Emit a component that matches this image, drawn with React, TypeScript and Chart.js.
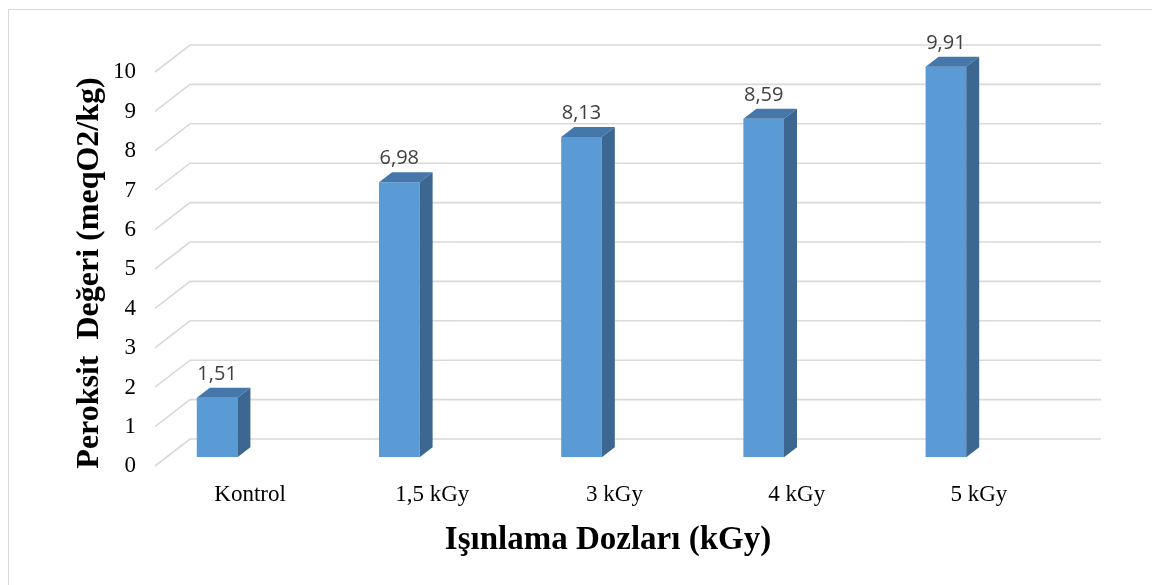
import React, { useEffect, useRef } from "react";
import { Chart, registerables } from "chart.js";

Chart.register(...registerables);

// Peroxide values per irradiation dose
const categories: string[] = ["Kontrol", "1,5 kGy", "3 kGy", "4 kGy", "5 kGy"];
const peroxideValues: number[] = [1.51, 6.98, 8.13, 8.59, 9.91];
const yTicksMin = 0;
const yTicksMax = 10;
const yTicksStep = 1;

const yTitle = "Peroksit  Değeri (meqO2/kg)";
const xTitle = "Işınlama Dozları (kGy)";

const SERIF = "'Times New Roman', 'Liberation Serif', serif";

// Oblique offsets of the 3-D look, relative to the plane of the bar fronts
const WALL_FRONT = { dx: 29, dy: 8.7 };
const WALL_BACK = { dx: 64, dy: -18.3 };
const BAR_DEPTH = { dx: 13, dy: -10 };

const COLORS = {
  front: "#5B9BD5",
  top: "#4677AB",
  side: "#3B6790",
  grid: "#D9D9D9",
  label: "#404040",
  border: "#D9D9D9",
};

const fmt = (v: number) => v.toFixed(2).replace(".", ",");

// Walls: diagonal side-wall lines and the back-wall gridlines
const wallPlugin = {
  id: "wall3d",
  beforeDatasetsDraw(chart: any) {
    const { ctx, chartArea, scales } = chart;
    const y = scales.y;
    ctx.save();
    ctx.strokeStyle = COLORS.grid;
    ctx.lineWidth = 1.6;
    for (let v = yTicksMin; v <= yTicksMax; v += yTicksStep) {
      const py = y.getPixelForValue(v);
      const fx = chartArea.left + WALL_FRONT.dx;
      const fy = py + WALL_FRONT.dy;
      const bx = chartArea.left + WALL_BACK.dx;
      const by = py + WALL_BACK.dy;
      const ex = chartArea.right + WALL_BACK.dx;
      ctx.beginPath();
      ctx.moveTo(fx, fy);
      ctx.lineTo(bx, by);
      ctx.lineTo(ex, by);
      ctx.stroke();
    }
    ctx.restore();
  },
};

// Top and side faces of each column, plus value labels
const columnPlugin = {
  id: "column3d",
  afterDatasetsDraw(chart: any) {
    const { ctx } = chart;
    const meta = chart.getDatasetMeta(0);
    const data = chart.data.datasets[0].data as number[];
    ctx.save();
    meta.data.forEach((bar: any, i: number) => {
      const { x, y, base, width } = bar.getProps(["x", "y", "base", "width"], true);
      const l = x - width / 2;
      const r = x + width / 2;
      const { dx, dy } = BAR_DEPTH;
      // top face
      ctx.fillStyle = COLORS.top;
      ctx.beginPath();
      ctx.moveTo(l, y);
      ctx.lineTo(r, y);
      ctx.lineTo(r + dx, y + dy);
      ctx.lineTo(l + dx, y + dy);
      ctx.closePath();
      ctx.fill();
      // side face
      ctx.fillStyle = COLORS.side;
      ctx.beginPath();
      ctx.moveTo(r, y);
      ctx.lineTo(r + dx, y + dy);
      ctx.lineTo(r + dx, base + dy);
      ctx.lineTo(r, base);
      ctx.closePath();
      ctx.fill();
      // value label
      ctx.fillStyle = COLORS.label;
      ctx.font = "20px 'Open Sans', 'Noto Sans', sans-serif";
      ctx.textAlign = "center";
      ctx.textBaseline = "middle";
      ctx.fillText(fmt(data[i]), x, y - 24);
    });
    ctx.restore();
  },
};

// Axis titles and the outer frame
const framePlugin = {
  id: "frameTitles",
  afterDraw(chart: any) {
    const { ctx, width, height } = chart;
    ctx.save();
    ctx.strokeStyle = COLORS.border;
    ctx.lineWidth = 1;
    ctx.beginPath();
    ctx.moveTo(0.5, height);
    ctx.lineTo(0.5, 1.5);
    ctx.lineTo(width - 0.5, 1.5);
    ctx.lineTo(width - 0.5, height);
    ctx.stroke();

    ctx.fillStyle = "#000";
    ctx.textAlign = "center";
    ctx.textBaseline = "middle";
    ctx.save();
    ctx.font = `bold 32px ${SERIF}`;
    ctx.translate(82, 265);
    ctx.rotate(-Math.PI / 2);
    ctx.fillText(yTitle, 0, 0);
    ctx.restore();
    ctx.font = `bold 33px ${SERIF}`;
    ctx.fillText(xTitle, 600, 532);
    ctx.restore();
  },
};

export default function App() {
  const canvasRef = useRef<HTMLCanvasElement | null>(null);

  useEffect(() => {
    if (!canvasRef.current) return;
    const chart = new Chart(canvasRef.current, {
      type: "bar",
      data: {
        labels: categories,
        datasets: [
          {
            data: peroxideValues,
            backgroundColor: COLORS.front,
            borderWidth: 0,
            categoryPercentage: 1,
            barPercentage: 0.223,
          },
        ],
      },
      options: {
        animation: false,
        responsive: false,
        devicePixelRatio: 1,
        layout: { padding: { top: 55.3, right: 123, bottom: 0, left: 0 } },
        plugins: {
          legend: { display: false },
          tooltip: { enabled: false },
        },
        scales: {
          x: {
            grid: { display: false, drawTicks: false },
            border: { display: false },
            ticks: {
              color: "#000",
              font: { family: SERIF, size: 23 },
              padding: 24,
              labelOffset: 33,
              maxRotation: 0,
              autoSkip: false,
            },
            afterFit(scale: any) {
              scale.height = 127.7;
            },
          },
          y: {
            min: yTicksMin,
            max: yTicksMax,
            grid: { display: false, drawTicks: false },
            border: { display: false },
            ticks: {
              stepSize: yTicksStep,
              color: "#000",
              font: { family: SERIF, size: 23 },
              mirror: true,
              crossAlign: "far",
              padding: -13,
              labelOffset: 9,
            },
            afterFit(scale: any) {
              scale.width = 118;
            },
          },
        },
      },
      plugins: [wallPlugin, columnPlugin, framePlugin],
    });
    return () => chart.destroy();
  }, []);

  return (
    <div style={{ width: 1152, height: 577 }}>
      <canvas ref={canvasRef} width={1152} height={577} style={{ display: "block" }} />
    </div>
  );
}
